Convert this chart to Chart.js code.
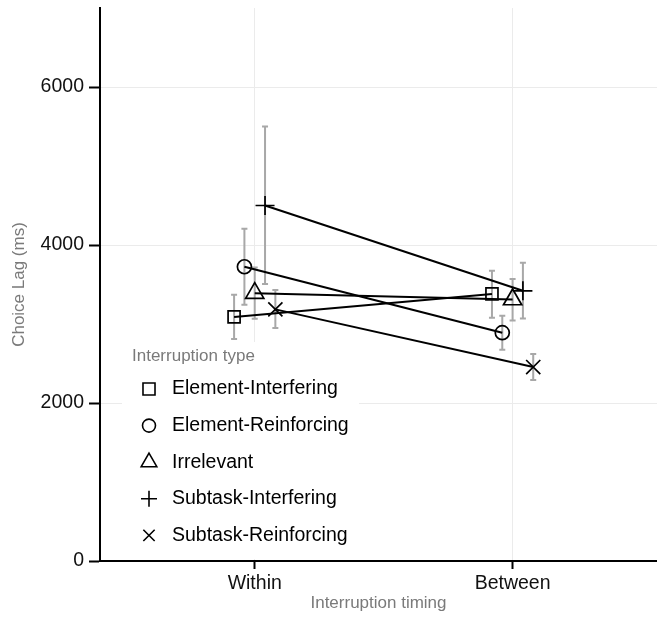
<!DOCTYPE html>
<html>
<head>
<meta charset="utf-8">
<script src="https://cdn.jsdelivr.net/npm/chart.js@4/dist/chart.umd.min.js"></script>
<style>
  html, body { margin: 0; padding: 0; background: #ffffff; overflow: hidden; }
  canvas { display: block; }
</style>
</head>
<body>
<canvas id="chart" width="657" height="618"></canvas>
<script>
// ---- Data ----
const categories = ['Within', 'Between'];
const seriesNames = ['Element-Interfering', 'Element-Reinforcing', 'Irrelevant', 'Subtask-Interfering', 'Subtask-Reinforcing'];

const meanElementInterfering  = [3090, 3380];
const lowElementInterfering   = [2810, 3080];
const highElementInterfering  = [3370, 3675];

const meanElementReinforcing  = [3725, 2890];
const lowElementReinforcing   = [3245, 2675];
const highElementReinforcing  = [4205, 3105];

const meanIrrelevant          = [3390, 3310];
const lowIrrelevant           = [3065, 3045];
const highIrrelevant          = [3715, 3570];

const meanSubtaskInterfering  = [4500, 3420];
const lowSubtaskInterfering   = [3505, 3070];
const highSubtaskInterfering  = [5500, 3775];

const meanSubtaskReinforcing  = [3185, 2455];
const lowSubtaskReinforcing   = [2950, 2290];
const highSubtaskReinforcing  = [3430, 2620];

const yTicks = [0, 2000, 4000, 6000];

// ---- Styling ----
const means = [meanElementInterfering, meanElementReinforcing, meanIrrelevant, meanSubtaskInterfering, meanSubtaskReinforcing];
const lows  = [lowElementInterfering, lowElementReinforcing, lowIrrelevant, lowSubtaskInterfering, lowSubtaskReinforcing];
const highs = [highElementInterfering, highElementReinforcing, highIrrelevant, highSubtaskInterfering, highSubtaskReinforcing];
const pointStyles = ['rect', 'circle', 'triangle', 'cross', 'crossRot'];
const plotRadius = [8.5, 7, 10.5, 9.5, 10];
const legendRadius = [8.5, 6.5, 9, 8, 8];
const DODGE_WIDTH = 0.2;
const FONT = '"Liberation Sans", Arial, Helvetica, sans-serif';

function dodgeOffset(i, n) {
  const step = DODGE_WIDTH / n;
  return (i - (n - 1) / 2) * step;
}

const datasets = seriesNames.map((name, i) => ({
  label: name,
  data: categories.map((c, j) => ({ x: j + 1 + dodgeOffset(i, seriesNames.length), y: means[i][j] })),
  lows: lows[i],
  highs: highs[i],
  borderColor: '#000000',
  borderWidth: 2,
  fill: false,
  tension: 0,
  pointStyle: pointStyles[i],
  pointRadius: plotRadius[i],
  pointHoverRadius: plotRadius[i],
  pointBorderColor: '#000000',
  pointBackgroundColor: 'rgba(0,0,0,0)',
  pointBorderWidth: 1.7
}));

function drawMarker(ctx, style, r, x, y, lw) {
  ctx.save();
  ctx.strokeStyle = '#000000';
  ctx.lineWidth = lw;
  ctx.beginPath();
  if (style === 'rect') {
    const s = Math.SQRT1_2 * r;
    ctx.rect(x - s, y - s, 2 * s, 2 * s);
  } else if (style === 'circle') {
    ctx.arc(x, y, r, 0, Math.PI * 2);
  } else if (style === 'triangle') {
    let a = 0;
    ctx.moveTo(x + Math.sin(a) * r, y - Math.cos(a) * r);
    a += 2 * Math.PI / 3;
    ctx.lineTo(x + Math.sin(a) * r, y - Math.cos(a) * r);
    a += 2 * Math.PI / 3;
    ctx.lineTo(x + Math.sin(a) * r, y - Math.cos(a) * r);
    ctx.closePath();
  } else if (style === 'cross') {
    ctx.moveTo(x, y - r); ctx.lineTo(x, y + r);
    ctx.moveTo(x - r, y); ctx.lineTo(x + r, y);
  } else if (style === 'crossRot') {
    const d = Math.SQRT1_2 * r;
    ctx.moveTo(x - d, y - d); ctx.lineTo(x + d, y + d);
    ctx.moveTo(x + d, y - d); ctx.lineTo(x - d, y + d);
  }
  ctx.stroke();
  ctx.restore();
}

const errorBarPlugin = {
  id: 'errorBars',
  beforeDatasetsDraw(chart, args, opts) {
    const ctx = chart.ctx;
    const xs = chart.scales.x, ys = chart.scales.y;
    ctx.save();
    ctx.strokeStyle = opts.color;
    ctx.lineWidth = opts.width;
    chart.data.datasets.forEach(ds => {
      ds.data.forEach((p, j) => {
        const px = xs.getPixelForValue(p.x);
        const yl = ys.getPixelForValue(ds.lows[j]);
        const yh = ys.getPixelForValue(ds.highs[j]);
        ctx.beginPath();
        ctx.moveTo(px, yl); ctx.lineTo(px, yh);
        ctx.moveTo(px - opts.cap, yl); ctx.lineTo(px + opts.cap, yl);
        ctx.moveTo(px - opts.cap, yh); ctx.lineTo(px + opts.cap, yh);
        ctx.stroke();
      });
    });
    ctx.restore();
  }
};

const legendPlugin = {
  id: 'boxLegend',
  afterDatasetsDraw(chart, args, opts) {
    const ctx = chart.ctx;
    ctx.save();
    ctx.fillStyle = '#ffffff';
    ctx.fillRect(opts.x, opts.y, opts.w, opts.h);
    ctx.fillStyle = opts.titleColor;
    ctx.font = '17px ' + FONT;
    ctx.textAlign = 'left';
    ctx.textBaseline = 'alphabetic';
    ctx.fillText(opts.title, opts.titleX, opts.titleBaseline);
    chart.data.datasets.forEach((ds, i) => {
      const cy = opts.firstRowY + i * opts.rowGap;
      drawMarker(ctx, ds.pointStyle, legendRadius[i], opts.markerX, cy, 1.6);
      ctx.fillStyle = '#000000';
      ctx.font = '19.5px ' + FONT;
      ctx.textBaseline = 'middle';
      ctx.fillText(ds.label, opts.textX, cy);
    });
    ctx.restore();
  }
};

new Chart(document.getElementById('chart'), {
  type: 'line',
  data: { datasets },
  plugins: [errorBarPlugin, legendPlugin],
  options: {
    responsive: false,
    animation: false,
    devicePixelRatio: 1,
    layout: { autoPadding: false, padding: { top: 8, right: 0, bottom: 0, left: 0 } },
    plugins: {
      legend: { display: false },
      tooltip: { enabled: false },
      errorBars: { color: '#a8a8a8', width: 2, cap: 3 },
      boxLegend: {
        x: 122, y: 342, w: 237, h: 217,
        title: 'Interruption type', titleColor: '#7a7a7a', titleX: 132, titleBaseline: 361,
        markerX: 149, textX: 172, firstRowY: 389, rowGap: 36.6
      }
    },
    scales: {
      x: {
        type: 'linear',
        min: 0.4,
        max: 2.56,
        afterBuildTicks: s => { s.ticks = categories.map((c, j) => ({ value: j + 1 })); },
        afterFit: s => { s.height = 57; s.paddingLeft = 0; s.paddingRight = 0; },
        grid: { color: '#ebebeb', lineWidth: 1, tickColor: '#000000', tickWidth: 2, tickLength: 8 },
        border: { color: '#000000', width: 2 },
        ticks: {
          autoSkip: false, maxRotation: 0, padding: 3, color: '#111111',
          font: { family: FONT, size: 19.5 },
          callback: v => categories[Math.round(v) - 1] ?? ''
        },
        title: { display: true, text: 'Interruption timing', color: '#7a7a7a', font: { family: FONT, size: 17 }, padding: { top: 0, bottom: 4 } }
      },
      y: {
        type: 'linear',
        min: 0,
        max: 7000,
        afterBuildTicks: s => { s.ticks = yTicks.map(v => ({ value: v })); },
        afterFit: s => { s.width = 100; s.paddingTop = 0; s.paddingBottom = 0; },
        grid: { color: '#ebebeb', lineWidth: 1, tickColor: '#000000', tickWidth: 2, tickLength: 11 },
        border: { color: '#000000', width: 2 },
        ticks: {
          padding: 5, color: '#111111',
          font: { family: FONT, size: 19.5 },
          callback: v => String(v)
        },
        title: { display: true, text: 'Choice Lag (ms)', color: '#7a7a7a', font: { family: FONT, size: 17 }, padding: { top: 9, bottom: 0 } }
      }
    }
  }
});
</script>
</body>
</html>
